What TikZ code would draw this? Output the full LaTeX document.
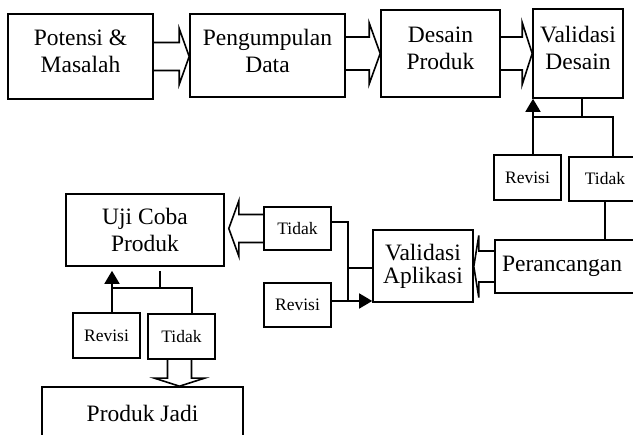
\documentclass[tikz,border=0pt]{standalone}
\usepackage{fontspec}
\setmainfont{Liberation Serif}
\usetikzlibrary{arrows.meta,calc}

\tikzset{
  caja/.style={draw, line width=1.6pt, align=center, inner sep=0pt,
    font=\fontsize{23.5}{27}\selectfont},
  cajita/.style={draw, line width=1.6pt, inner sep=0pt, minimum width=67pt,
    minimum height=44pt, font=\fontsize{17.5}{20}\selectfont},
  arriba/.style={execute at end node={\rule[-#1]{0pt}{0pt}}},
  linea/.style={line width=1.6pt},
  flecha/.style={line width=1.6pt, -{Triangle[length=13pt,width=15pt]}},
  hueca/.style={line width=1.6pt, line join=miter},
}

% Flecha gruesa horizontal: origen, destino, semiancho, semiancho punta, largo punta
\newcommand{\flechah}[5]{%
  \draw[hueca] let \p1=(#1), \p2=(#2), \n1={(\x2>\x1) ? 1 : -1} in
    (\x1,{\y1+#3}) -- ({\x2-(\n1)*#5},{\y1+#3}) -- ({\x2-(\n1)*#5},{\y1+#4})
    -- (\x2,\y1) -- ({\x2-(\n1)*#5},{\y1-#4}) -- ({\x2-(\n1)*#5},{\y1-#3})
    -- (\x1,{\y1-#3});}

% Flecha gruesa vertical
\newcommand{\flechav}[5]{%
  \draw[hueca] let \p1=(#1), \p2=(#2), \n1={(\y2>\y1) ? 1 : -1} in
    ({\x1+#3},\y1) -- ({\x1+#3},{\y2-(\n1)*#5}) -- ({\x1+#4},{\y2-(\n1)*#5})
    -- (\x1,\y2) -- ({\x1-#4},{\y2-(\n1)*#5}) -- ({\x1-#3},{\y2-(\n1)*#5})
    -- ({\x1-#3},\y1);}

\begin{document}
\begin{tikzpicture}[x=1pt, y=-1pt]
  \useasboundingbox (0,0) rectangle (633,435);

  % Fila de arriba
  \node[caja, arriba=11pt, minimum width=145pt, minimum height=85pt] (potensi) at (80.5,56.5) {Potensi \&\\Masalah};
  \node[caja, arriba=9pt, minimum width=155pt, minimum height=83pt] (pengumpulan) at (267.5,55.5) {Pengumpulan\\Data};
  \node[caja, arriba=11pt, minimum width=119pt, minimum height=87pt] (desain) at (440.5,53.5) {Desain\\Produk};
  \node[caja, arriba=12pt, minimum width=90pt, minimum height=89pt] (valdesain) at (578,53.5) {Validasi\\Desain};

  \flechah{potensi.east}{pengumpulan.west}{14pt}{28pt}{10pt}
  \flechah{[yshift=2pt]pengumpulan.east}{desain.west}{16.5pt}{30.5pt}{11pt}
  \flechah{desain.east}{valdesain.west}{16.5pt}{31pt}{10pt}

  % Revisi y Tidak de Validasi Desain
  \node[cajita, minimum height=45pt] (revisi1) at (527.5,177.5) {Revisi};
  \node[cajita, minimum width=72pt] (tidak1) at (605,179) {Tidak};

  \coordinate (vdkiri) at (533,117);
  \coordinate (vdtengah) at (582,117);
  \coordinate (vdkanan) at (613,117);
  \draw[linea] (valdesain.south -| vdtengah) -- (vdtengah);
  \draw[linea] (tidak1.north -| vdkanan) -- (vdkanan) -- (vdkiri);
  \draw[flecha] (revisi1.north -| vdkiri) -- (valdesain.south -| vdkiri);

  % Perancangan y Validasi Aplikasi
  \node[caja, text width=131pt, align=left, inner xsep=7pt, minimum height=53pt] (perancangan) at (567.5,266.5) {Perancangan};
  \node[caja, font=\fontsize{23.5}{23}\selectfont, minimum width=100pt, minimum height=72pt] (valapl) at (423,266) {Validasi\\Aplikasi};

  \draw[linea] (tidak1.south) -- (perancangan.north -| tidak1.south);
  \flechah{perancangan.west}{valapl.east}{15.5pt}{31pt}{5pt}

  % Revisi y Tidak de Validasi Aplikasi
  \node[cajita, minimum height=43pt] (tidak2) at (297.5,228.5) {Tidak};
  \node[cajita] (revisi2) at (297.5,305) {Revisi};

  \coordinate (vaatas) at (348,222);
  \coordinate (vatengah) at (348,268);
  \coordinate (vabawah) at (348,301);
  \draw[linea] (tidak2.east |- vaatas) -- (vaatas) -- (vabawah);
  \draw[linea] (vatengah) -- (valapl.west |- vatengah);
  \draw[flecha] (revisi2.east |- vabawah) -- (valapl.west |- vabawah);

  % Uji Coba Produk
  \node[caja, minimum width=158pt, minimum height=72pt] (ujicoba) at (145,230) {Uji Coba\\Produk};
  \flechah{tidak2.west}{[xshift=4pt]ujicoba.east}{14pt}{27.5pt}{10pt}

  \node[cajita, minimum height=45pt] (revisi3) at (106.5,335.5) {Revisi};
  \node[cajita, minimum height=45pt] (tidak3) at (181.5,336.5) {Tidak};

  \coordinate (ujkiri) at (112,288);
  \coordinate (ujtengah) at (160,288);
  \coordinate (ujkanan) at (192,288);
  \draw[linea, shorten <=4pt] (ujicoba.south -| ujtengah) -- (ujtengah);
  \draw[linea] (tidak3.north -| ujkanan) -- (ujkanan) -- (ujkiri);
  \draw[flecha, shorten >=4pt] (revisi3.north -| ujkiri) -- (ujicoba.south -| ujkiri);

  % Produk Jadi
  \node[caja, minimum width=201pt, minimum height=53pt] (produk) at (142.5,413.5) {Produk Jadi};
  \flechav{[xshift=-2pt]tidak3.south}{produk.north}{12pt}{25pt}{8pt}

\end{tikzpicture}
\end{document}
